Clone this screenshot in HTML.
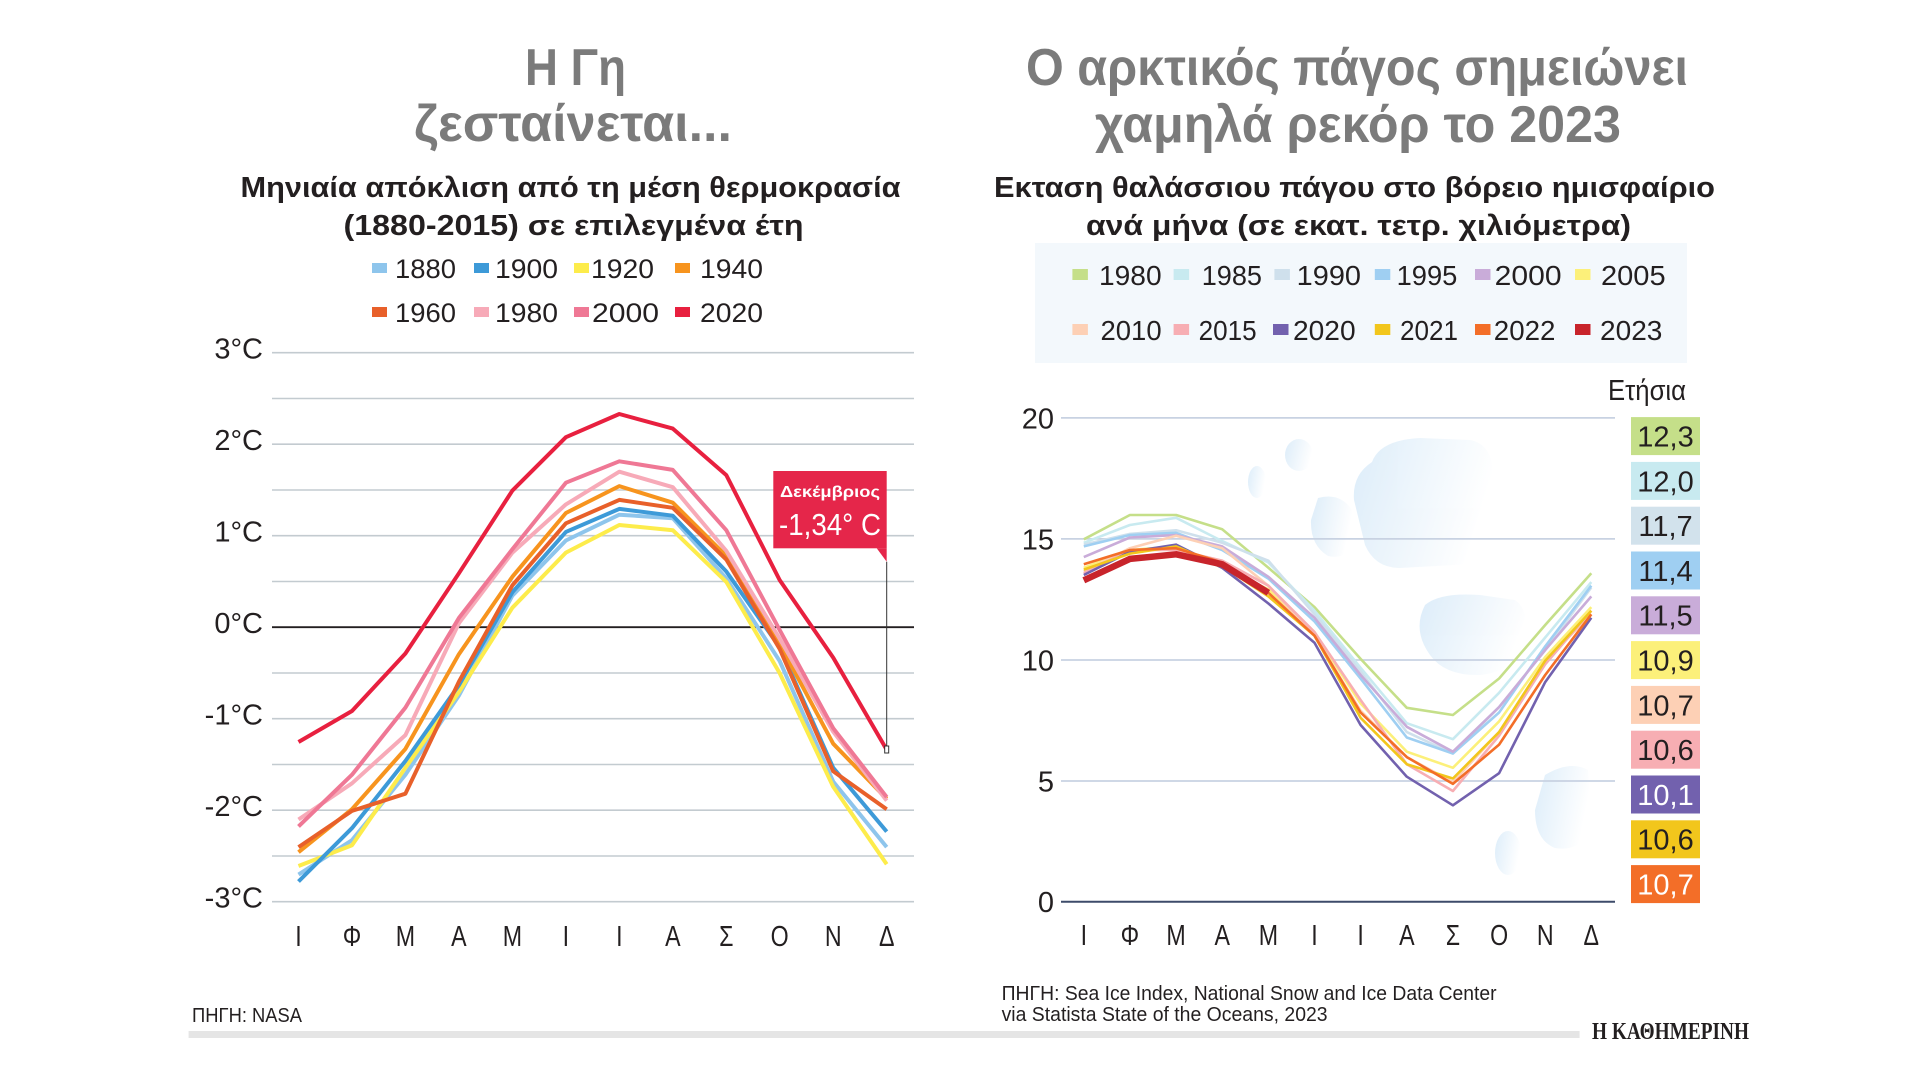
<!DOCTYPE html>
<html><head><meta charset="utf-8"><style>
html,body{margin:0;padding:0;background:#fff;}
svg{display:block;}
text{font-family:"Liberation Sans","DejaVu Sans",sans-serif;}
</style></head><body>
<svg width="1920" height="1080" viewBox="0 0 1920 1080" xmlns="http://www.w3.org/2000/svg">
<defs>
<linearGradient id="ice" x1="0" y1="0" x2="1" y2="0.3">
<stop offset="0" stop-color="#c6e1f6"/><stop offset="1" stop-color="#ffffff"/>
</linearGradient>
</defs>
<rect width="1920" height="1080" fill="#fff"/>

<!-- Titles -->
<g font-weight="bold" fill="#7b7b7b" font-size="52">
<text x="525" y="85" textLength="101" lengthAdjust="spacingAndGlyphs">Η Γη</text>
<text x="414" y="141" textLength="318" lengthAdjust="spacingAndGlyphs">ζεσταίνεται...</text>
<text x="1026" y="85" textLength="662" lengthAdjust="spacingAndGlyphs">Ο αρκτικός πάγος σημειώνει</text>
<text x="1095" y="142" textLength="526" lengthAdjust="spacingAndGlyphs">χαμηλά ρεκόρ το 2023</text>
</g>
<g font-weight="bold" fill="#231f20" font-size="29">
<text x="240.5" y="197" textLength="660" lengthAdjust="spacingAndGlyphs">Μηνιαία απόκλιση από τη μέση θερμοκρασία</text>
<text x="343.5" y="235" textLength="460" lengthAdjust="spacingAndGlyphs">(1880-2015) σε επιλεγμένα έτη</text>
<text x="994" y="197" textLength="721" lengthAdjust="spacingAndGlyphs">Εκταση θαλάσσιου πάγου στο βόρειο ημισφαίριο</text>
<text x="1086" y="235" textLength="545" lengthAdjust="spacingAndGlyphs">ανά μήνα (σε εκατ. τετρ. χιλιόμετρα)</text>
</g>

<!-- Left legend -->
<g font-size="27" fill="#231f20">
<rect x="372" y="263" width="15" height="10" fill="#8ec5ec"/><text x="395" y="278" textLength="61" lengthAdjust="spacingAndGlyphs">1880</text>
<rect x="474" y="263" width="15" height="10" fill="#3d9ad8"/><text x="495" y="278" textLength="63" lengthAdjust="spacingAndGlyphs">1900</text>
<rect x="574" y="263" width="15" height="10" fill="#fdec4b"/><text x="591" y="278" textLength="63" lengthAdjust="spacingAndGlyphs">1920</text>
<rect x="675" y="263" width="15" height="10" fill="#f7941e"/><text x="700" y="278" textLength="63" lengthAdjust="spacingAndGlyphs">1940</text>
<rect x="372" y="307" width="15" height="10" fill="#e8602a"/><text x="395" y="322" textLength="61" lengthAdjust="spacingAndGlyphs">1960</text>
<rect x="474" y="307" width="15" height="10" fill="#f7aab8"/><text x="495" y="322" textLength="63" lengthAdjust="spacingAndGlyphs">1980</text>
<rect x="574" y="307" width="15" height="10" fill="#ef7895"/><text x="592" y="322" textLength="67" lengthAdjust="spacingAndGlyphs">2000</text>
<rect x="675" y="307" width="15" height="10" fill="#e8203f"/><text x="700" y="322" textLength="63" lengthAdjust="spacingAndGlyphs">2020</text>
</g>

<!-- Left gridlines -->
<g stroke="#c3cbd0" stroke-width="1.6">
<line x1="272" y1="352.7" x2="914" y2="352.7"/>
<line x1="272" y1="398.5" x2="914" y2="398.5"/>
<line x1="272" y1="444.2" x2="914" y2="444.2"/>
<line x1="272" y1="490" x2="914" y2="490"/>
<line x1="272" y1="535.7" x2="914" y2="535.7"/>
<line x1="272" y1="581.5" x2="914" y2="581.5"/>
<line x1="272" y1="673" x2="914" y2="673"/>
<line x1="272" y1="718.7" x2="914" y2="718.7"/>
<line x1="272" y1="764.5" x2="914" y2="764.5"/>
<line x1="272" y1="810.2" x2="914" y2="810.2"/>
<line x1="272" y1="856" x2="914" y2="856"/>
<line x1="272" y1="901.7" x2="914" y2="901.7"/>
</g>
<line x1="272" y1="627.2" x2="914" y2="627.2" stroke="#231f20" stroke-width="1.8"/>

<!-- Left Y labels -->
<g font-size="29" fill="#231f20" text-anchor="end">
<text x="263" y="358.5">3°C</text>
<text x="263" y="450">2°C</text>
<text x="263" y="541.5">1°C</text>
<text x="263" y="633">0°C</text>
<text x="263" y="724.5">-1°C</text>
<text x="263" y="816">-2°C</text>
<text x="263" y="907.5">-3°C</text>
</g>

<!-- Left series -->
<g fill="none" stroke-width="4" stroke-linejoin="round" stroke-linecap="butt">
<polyline stroke="#8ec5ec" points="298.5,874.6 352,840.2 405.4,774.7 458.9,695.5 512.4,595.6 565.9,540.5 619.3,514.7 672.8,518.2 726.3,578.4 779.7,661.1 833.2,781.6 886.7,847.1"/>
<polyline stroke="#fdec4b" points="298.5,866 352,845.3 405.4,767.8 458.9,692.1 512.4,607.7 565.9,552.6 619.3,525 672.8,530.2 726.3,581.9 779.7,673.1 833.2,786.8 886.7,864.3"/>
<polyline stroke="#3d9ad8" points="298.5,881.5 352,828.1 405.4,761 458.9,685.2 512.4,592.2 565.9,531.9 619.3,508.9 672.8,515.7 726.3,571.5 779.7,647.3 833.2,767.8 886.7,831.6"/>
<polyline stroke="#f7941e" points="298.5,852.2 352,809.2 405.4,748.9 458.9,654.2 512.4,576.7 565.9,513 619.3,486.1 672.8,502.7 726.3,556 779.7,643.9 833.2,743.7 886.7,798.8"/>
<polyline stroke="#e8602a" points="298.5,847.1 352,810.9 405.4,793.7 458.9,681.7 512.4,585.3 565.9,523.3 619.3,499.9 672.8,507.8 726.3,559.5 779.7,649 833.2,771.3 886.7,809.2"/>
<polyline stroke="#f7aab8" points="298.5,819.5 352,783.3 405.4,735.1 458.9,623.2 512.4,552.6 565.9,504.4 619.3,471.7 672.8,487.2 726.3,550.9 779.7,638.7 833.2,731.7 886.7,800.6"/>
<polyline stroke="#ef7895" points="298.5,826.4 352,774.7 405.4,707.6 458.9,618 512.4,549.2 565.9,482.7 619.3,461.3 672.8,469.9 726.3,530.2 779.7,630.1 833.2,728.2 886.7,797.1"/>
<polyline stroke="#e8203f" points="298.5,742 352,711 405.4,653.5 458.9,573.3 512.4,490.6 565.9,437.2 619.3,414 672.8,428.6 726.3,475.1 779.7,580.1 833.2,657.6 886.7,749.8"/>
</g>

<!-- Callout -->
<rect x="773.3" y="471" width="113.4" height="77.3" fill="#e5264a"/>
<polygon points="876.7,548.3 886.7,548.3 886.7,561.7" fill="#e5264a"/>
<line x1="886.7" y1="561.7" x2="886.7" y2="747" stroke="#333" stroke-width="1"/>
<rect x="884.7" y="746" width="4" height="7" fill="#fff" stroke="#333" stroke-width="1"/>
<text x="830" y="497" font-size="16" font-weight="bold" fill="#fff" text-anchor="middle" textLength="100" lengthAdjust="spacingAndGlyphs">Δεκέμβριος</text>
<text x="830" y="535" font-size="31" fill="#fff" text-anchor="middle" textLength="102" lengthAdjust="spacingAndGlyphs">-1,34° C</text>

<!-- Left X labels -->
<g font-size="29" fill="#231f20" text-anchor="middle">
<text transform="translate(298.5,946) scale(0.8,1)">Ι</text>
<text transform="translate(352,946) scale(0.8,1)">Φ</text>
<text transform="translate(405.4,946) scale(0.8,1)">Μ</text>
<text transform="translate(458.9,946) scale(0.8,1)">Α</text>
<text transform="translate(512.4,946) scale(0.8,1)">Μ</text>
<text transform="translate(565.9,946) scale(0.8,1)">Ι</text>
<text transform="translate(619.3,946) scale(0.8,1)">Ι</text>
<text transform="translate(672.8,946) scale(0.8,1)">Α</text>
<text transform="translate(726.3,946) scale(0.8,1)">Σ</text>
<text transform="translate(779.7,946) scale(0.8,1)">Ο</text>
<text transform="translate(833.2,946) scale(0.8,1)">Ν</text>
<text transform="translate(886.7,946) scale(0.8,1)">Δ</text>
</g>

<!-- Right legend -->
<rect x="1035" y="243" width="652" height="120" fill="#f3f8fc"/>
<g font-size="28" fill="#231f20">
<rect x="1072.4" y="269" width="15.5" height="11" fill="#c5df89"/><text x="1099" y="285" textLength="62.6" lengthAdjust="spacingAndGlyphs">1980</text>
<rect x="1173.6" y="269" width="15.5" height="11" fill="#c8eaf0"/><text x="1201.7" y="285" textLength="60.3" lengthAdjust="spacingAndGlyphs">1985</text>
<rect x="1274.4" y="269" width="15.5" height="11" fill="#cfe0ec"/><text x="1296.7" y="285" textLength="64.3" lengthAdjust="spacingAndGlyphs">1990</text>
<rect x="1374.8" y="269" width="15.5" height="11" fill="#9fcff2"/><text x="1396.6" y="285" textLength="60.7" lengthAdjust="spacingAndGlyphs">1995</text>
<rect x="1475" y="269" width="15.5" height="11" fill="#c9acd9"/><text x="1494.7" y="285" textLength="66.9" lengthAdjust="spacingAndGlyphs">2000</text>
<rect x="1575" y="269" width="15.5" height="11" fill="#fcf07a"/><text x="1601" y="285" textLength="64.6" lengthAdjust="spacingAndGlyphs">2005</text>
<rect x="1072.4" y="324" width="15.5" height="11" fill="#fdd0b5"/><text x="1100.5" y="340" textLength="61.1" lengthAdjust="spacingAndGlyphs">2010</text>
<rect x="1173.6" y="324" width="15.5" height="11" fill="#f7aeb3"/><text x="1198.6" y="340" textLength="58" lengthAdjust="spacingAndGlyphs">2015</text>
<rect x="1273" y="324" width="15.5" height="11" fill="#7261ae"/><text x="1293" y="340" textLength="62.6" lengthAdjust="spacingAndGlyphs">2020</text>
<rect x="1374.8" y="324" width="15.5" height="11" fill="#f2c61c"/><text x="1400" y="340" textLength="58" lengthAdjust="spacingAndGlyphs">2021</text>
<rect x="1475" y="324" width="15.5" height="11" fill="#f36e28"/><text x="1493.8" y="340" textLength="61.6" lengthAdjust="spacingAndGlyphs">2022</text>
<rect x="1575" y="324" width="15.5" height="11" fill="#c8242b"/><text x="1600" y="340" textLength="62.4" lengthAdjust="spacingAndGlyphs">2023</text>
</g>
<text x="1608" y="400" font-size="29" fill="#231f20" textLength="78" lengthAdjust="spacingAndGlyphs">Ετήσια</text>

<!-- Ice blobs -->
<g fill="url(#ice)" opacity="0.6">
<path d="M1372,462 Q1380,440 1420,438 L1470,440 Q1495,445 1492,480 L1488,545 Q1485,565 1455,565 L1400,568 Q1375,568 1365,545 L1354,500 Q1352,475 1372,462 Z"/>
<ellipse cx="1299" cy="455" rx="14" ry="16"/>
<ellipse cx="1257" cy="482" rx="9" ry="16"/>
<path d="M1318,498 Q1340,492 1352,510 L1352,545 Q1345,560 1328,556 Q1310,545 1311,520 Z"/>
<path d="M1425,605 Q1440,592 1480,595 L1515,600 Q1530,610 1525,640 Q1515,672 1480,675 Q1445,676 1430,655 Q1412,630 1425,605 Z"/>
<path d="M1545,775 Q1570,760 1588,770 L1590,830 Q1580,852 1555,848 Q1535,840 1535,810 Z"/>
<ellipse cx="1508" cy="853" rx="13" ry="22"/>
</g>

<!-- Right gridlines -->
<g stroke="#c8d2e2" stroke-width="1.8">
<line x1="1061" y1="417.9" x2="1615" y2="417.9"/>
<line x1="1061" y1="538.9" x2="1615" y2="538.9"/>
<line x1="1061" y1="660" x2="1615" y2="660"/>
<line x1="1061" y1="781" x2="1615" y2="781"/>
</g>
<line x1="1061" y1="901.7" x2="1615" y2="901.7" stroke="#3d4b6a" stroke-width="2"/>

<!-- Right Y labels -->
<g font-size="29" fill="#231f20" text-anchor="end">
<text x="1054" y="428.5">20</text>
<text x="1054" y="549.5">15</text>
<text x="1054" y="670.5">10</text>
<text x="1054" y="791.5">5</text>
<text x="1054" y="912">0</text>
</g>

<!-- Right series -->
<g fill="none" stroke-width="2.6" stroke-linejoin="round">
<polyline stroke="#c5df89" points="1083.8,539.3 1129.9,515 1176.1,515 1222.2,529.3 1268.4,567.8 1314.5,607.1 1360.6,658.9 1406.8,707.8 1452.9,715 1499.1,678.5 1545.2,625 1591.3,573.2"/>
<polyline stroke="#c8eaf0" points="1083.8,542.8 1129.9,525 1176.1,517.8 1222.2,541.1 1268.4,562.5 1314.5,610.7 1360.6,667.8 1406.8,723.2 1452.9,739.2 1499.1,692.8 1545.2,637.5 1591.3,582.1"/>
<polyline stroke="#cfe0ec" points="1083.8,544.6 1129.9,533.9 1176.1,530.3 1222.2,542.8 1268.4,560.7 1314.5,614.3 1360.6,671.4 1406.8,732.1 1452.9,753.5 1499.1,707.1 1545.2,650 1591.3,587.5"/>
<polyline stroke="#9fcff2" points="1083.8,546.4 1129.9,535 1176.1,532.8 1222.2,550 1268.4,578.6 1314.5,621.4 1360.6,678.5 1406.8,737.5 1452.9,753.5 1499.1,712.5 1545.2,646.4 1591.3,585.7"/>
<polyline stroke="#c9acd9" points="1083.8,557.1 1129.9,537.5 1176.1,535 1222.2,546.4 1268.4,576.8 1314.5,617.8 1360.6,675 1406.8,726.8 1452.9,751.7 1499.1,707.1 1545.2,650 1591.3,596.4"/>
<polyline stroke="#fcf07a" points="1083.8,567.8 1129.9,550 1176.1,546.4 1222.2,567.8 1268.4,589.3 1314.5,632.1 1360.6,703.5 1406.8,751.7 1452.9,767.8 1499.1,721.4 1545.2,657.1 1591.3,607.1"/>
<polyline stroke="#fdd0b5" points="1083.8,571.4 1129.9,548.2 1176.1,535.7 1222.2,548.2 1268.4,585.7 1314.5,635.7 1360.6,710.7 1406.8,757.1 1452.9,782.1 1499.1,732.1 1545.2,660.7 1591.3,614.3"/>
<polyline stroke="#f7aeb3" points="1083.8,573.2 1129.9,550 1176.1,550 1222.2,560.7 1268.4,585.7 1314.5,632.1 1360.6,700 1406.8,764.2 1452.9,791 1499.1,735.7 1545.2,664.3 1591.3,610.7"/>
<polyline stroke="#7261ae" points="1083.8,575 1129.9,551.8 1176.1,544.6 1222.2,567.8 1268.4,603.5 1314.5,642.8 1360.6,725 1406.8,776.7 1452.9,805.3 1499.1,773.2 1545.2,682.1 1591.3,617.8"/>
<polyline stroke="#f2c61c" points="1083.8,569.6 1129.9,553.6 1176.1,546.4 1222.2,566.1 1268.4,596.4 1314.5,635.7 1360.6,717.8 1406.8,764.2 1452.9,778.5 1499.1,732.1 1545.2,660.7 1591.3,610.7"/>
<polyline stroke="#f36e28" points="1083.8,564.3 1129.9,550 1176.1,548.2 1222.2,562.5 1268.4,592.8 1314.5,635.7 1360.6,712.5 1406.8,757.1 1452.9,783.9 1499.1,744.6 1545.2,675 1591.3,614.3"/>
<polyline stroke="#c8242b" stroke-width="6.5" points="1083.8,580.3 1129.9,558.9 1176.1,554.3 1222.2,564.3 1268.4,592.8"/>
</g>

<!-- Right X labels -->
<g font-size="29" fill="#231f20" text-anchor="middle">
<text transform="translate(1083.8,945) scale(0.8,1)">Ι</text>
<text transform="translate(1129.9,945) scale(0.8,1)">Φ</text>
<text transform="translate(1176.1,945) scale(0.8,1)">Μ</text>
<text transform="translate(1222.2,945) scale(0.8,1)">Α</text>
<text transform="translate(1268.4,945) scale(0.8,1)">Μ</text>
<text transform="translate(1314.5,945) scale(0.8,1)">Ι</text>
<text transform="translate(1360.6,945) scale(0.8,1)">Ι</text>
<text transform="translate(1406.8,945) scale(0.8,1)">Α</text>
<text transform="translate(1452.9,945) scale(0.8,1)">Σ</text>
<text transform="translate(1499.1,945) scale(0.8,1)">Ο</text>
<text transform="translate(1545.2,945) scale(0.8,1)">Ν</text>
<text transform="translate(1591.3,945) scale(0.8,1)">Δ</text>
</g>

<!-- Annual boxes -->
<g font-size="29" text-anchor="middle">
<rect x="1631" y="417.1" width="69" height="38" fill="#c5df89"/><text x="1665.5" y="446.5" fill="#231f20">12,3</text>
<rect x="1631" y="461.9" width="69" height="38" fill="#c8eaf0"/><text x="1665.5" y="491.3" fill="#231f20">12,0</text>
<rect x="1631" y="506.7" width="69" height="38" fill="#d2e2ec"/><text x="1665.5" y="536.1" fill="#231f20">11,7</text>
<rect x="1631" y="551.5" width="69" height="38" fill="#9fcff2"/><text x="1665.5" y="580.9" fill="#231f20">11,4</text>
<rect x="1631" y="596.3" width="69" height="38" fill="#c9acd9"/><text x="1665.5" y="625.7" fill="#231f20">11,5</text>
<rect x="1631" y="641.1" width="69" height="38" fill="#fcf07a"/><text x="1665.5" y="670.5" fill="#231f20">10,9</text>
<rect x="1631" y="685.9" width="69" height="38" fill="#fdd0b5"/><text x="1665.5" y="715.3" fill="#231f20">10,7</text>
<rect x="1631" y="730.7" width="69" height="38" fill="#f7aeb3"/><text x="1665.5" y="760.1" fill="#231f20">10,6</text>
<rect x="1631" y="775.5" width="69" height="38" fill="#7261ae"/><text x="1665.5" y="804.9" fill="#ffffff">10,1</text>
<rect x="1631" y="820.3" width="69" height="38" fill="#f2c61c"/><text x="1665.5" y="849.7" fill="#231f20">10,6</text>
<rect x="1631" y="865.1" width="69" height="38" fill="#f36e28"/><text x="1665.5" y="894.5" fill="#ffffff">10,7</text>
</g>

<!-- Footer -->
<g font-size="20" fill="#231f20">
<text x="192" y="1022" textLength="110" lengthAdjust="spacingAndGlyphs">ΠΗΓΗ: NASA</text>
<text x="1001.6" y="1000" textLength="495" lengthAdjust="spacingAndGlyphs">ΠΗΓΗ: Sea Ice Index, National Snow and Ice Data Center</text>
<text x="1001.6" y="1021" textLength="326" lengthAdjust="spacingAndGlyphs">via Statista State of the Oceans, 2023</text>
</g>
<rect x="188.6" y="1031" width="1391" height="7" fill="#e5e5e5"/>
<text x="1592" y="1039" font-weight="bold" font-size="24" fill="#231f20" textLength="157" lengthAdjust="spacingAndGlyphs" style="font-family:'Liberation Serif',serif">Η ΚΑΘΗΜΕΡΙΝΗ</text>
</svg>
</body></html>
